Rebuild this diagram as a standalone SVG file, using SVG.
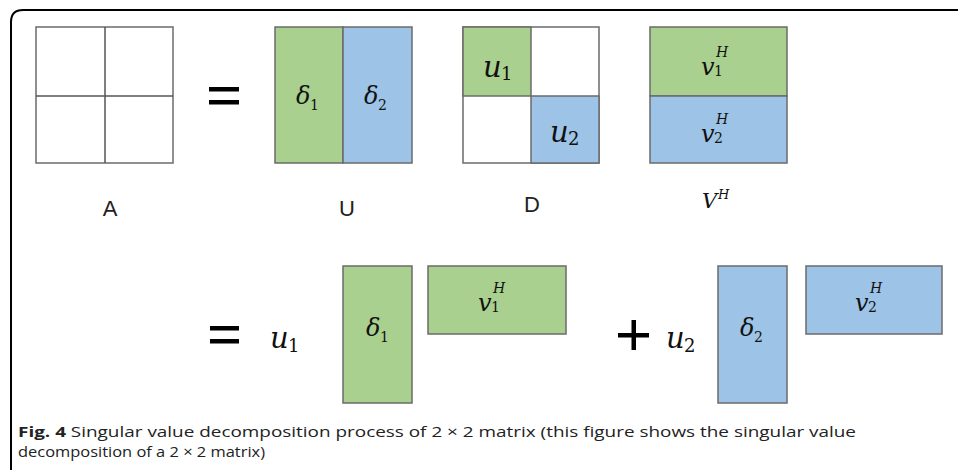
<svg xmlns="http://www.w3.org/2000/svg" width="958" height="470" viewBox="0 0 958 470">
<style>
.g{fill:#a9d08e;stroke:#6b6b6b;stroke-width:1.5}
.b{fill:#9dc3e6;stroke:#6b6b6b;stroke-width:1.5}
.w{fill:#fff;stroke:#6b6b6b;stroke-width:1.5}
.ln{stroke:#555;stroke-width:1.5}
.lab{font-family:'Liberation Sans',Arial,sans-serif;font-size:22px;fill:#222;text-anchor:middle}
.op{fill:#000}
.cap{font-family:'Open Sans','Liberation Sans',sans-serif;font-size:15px;fill:#222}
.mt{font-family:'DejaVu Serif','Liberation Serif',serif;fill:#111}
</style>
<rect width="958" height="470" fill="#fff"/>
<path d="M11 470 V22 Q11 10 23 10 H958" fill="none" stroke="#000" stroke-width="2"/>

<g id="matrixA">
<rect class="w" x="36" y="27" width="137" height="136"/>
<line class="ln" x1="105" y1="27" x2="105" y2="163"/>
<line class="ln" x1="36" y1="96" x2="173" y2="96"/>
<text class="lab" x="110" y="216">A</text>
</g>

<g id="eq1" class="op">
<rect x="209" y="87" width="30" height="4.5"/>
<rect x="209" y="100" width="30" height="4.5"/>
</g>

<g class="mt">
<g id="matrixU">
<rect class="g" x="275" y="27" width="68" height="136"/>
<rect class="b" x="343" y="27" width="69" height="136"/>
<text font-style="italic" x="296" y="104" font-size="24">δ</text>
<text x="310" y="110" font-size="14">1</text>
<text font-style="italic" x="364" y="104" font-size="24">δ</text>
<text x="378" y="110" font-size="14">2</text>
<text class="lab" x="347" y="216">U</text>
</g>

<g id="matrixD">
<rect class="w" x="463" y="27" width="136" height="136"/>
<rect class="g" x="463" y="27" width="68" height="69"/>
<rect class="b" x="531" y="96" width="68" height="67"/>
<text font-style="italic" x="483" y="77" font-size="29">u</text>
<text x="501" y="80" font-size="18">1</text>
<text font-style="italic" x="550" y="142" font-size="29">u</text>
<text x="568" y="145" font-size="18">2</text>
<text class="lab" x="532" y="212">D</text>
</g>

<g id="matrixVH">
<rect class="g" x="650" y="27" width="137" height="69"/>
<rect class="b" x="650" y="96" width="137" height="67"/>
<text font-style="italic" x="701" y="75" font-size="24">v</text>
<text x="714" y="76" font-size="14">1</text>
<text font-style="italic" x="716" y="57" font-size="14">H</text>
<text font-style="italic" x="701" y="142" font-size="24">v</text>
<text x="714" y="143" font-size="14">2</text>
<text font-style="italic" x="716" y="124" font-size="14">H</text>
<text font-style="italic" x="702" y="208" font-size="21">V</text>
<text font-style="italic" x="718" y="199" font-size="13">H</text>
</g>

<g id="term1">
<text font-style="italic" x="270" y="348" font-size="29">u</text>
<text x="288" y="352" font-size="18">1</text>
<rect class="g" x="343" y="266" width="69" height="137"/>
<text font-style="italic" x="366" y="336" font-size="24">δ</text>
<text x="380" y="342" font-size="14">1</text>
<rect class="g" x="428" y="266" width="138" height="68"/>
<text font-style="italic" x="478" y="311" font-size="24">v</text>
<text x="491" y="312" font-size="14">1</text>
<text font-style="italic" x="493" y="293" font-size="14">H</text>
</g>

<g id="term2">
<text font-style="italic" x="666" y="348" font-size="29">u</text>
<text x="684" y="352" font-size="18">2</text>
<rect class="b" x="718" y="266" width="69" height="137"/>
<text font-style="italic" x="740" y="336" font-size="24">δ</text>
<text x="754" y="342" font-size="14">2</text>
<rect class="b" x="806" y="266" width="136" height="68"/>
<text font-style="italic" x="855" y="311" font-size="24">v</text>
<text x="868" y="312" font-size="14">2</text>
<text font-style="italic" x="870" y="293" font-size="14">H</text>
</g>
</g>

<g id="eq2" class="op">
<rect x="210" y="326" width="29" height="4.5"/>
<rect x="210" y="339" width="29" height="4.5"/>
</g>

<g id="plus" class="op">
<rect x="618" y="333" width="31" height="4.5"/>
<rect x="631.5" y="320" width="4.5" height="30"/>
</g>

<g id="caption">
<text class="cap" x="18" y="437" textLength="838" lengthAdjust="spacingAndGlyphs"><tspan font-weight="bold">Fig. 4</tspan> Singular value decomposition process of 2 × 2 matrix (this figure shows the singular value</text>
<text class="cap" x="18" y="457" textLength="247" lengthAdjust="spacingAndGlyphs">decomposition of a 2 × 2 matrix)</text>
</g>
</svg>
